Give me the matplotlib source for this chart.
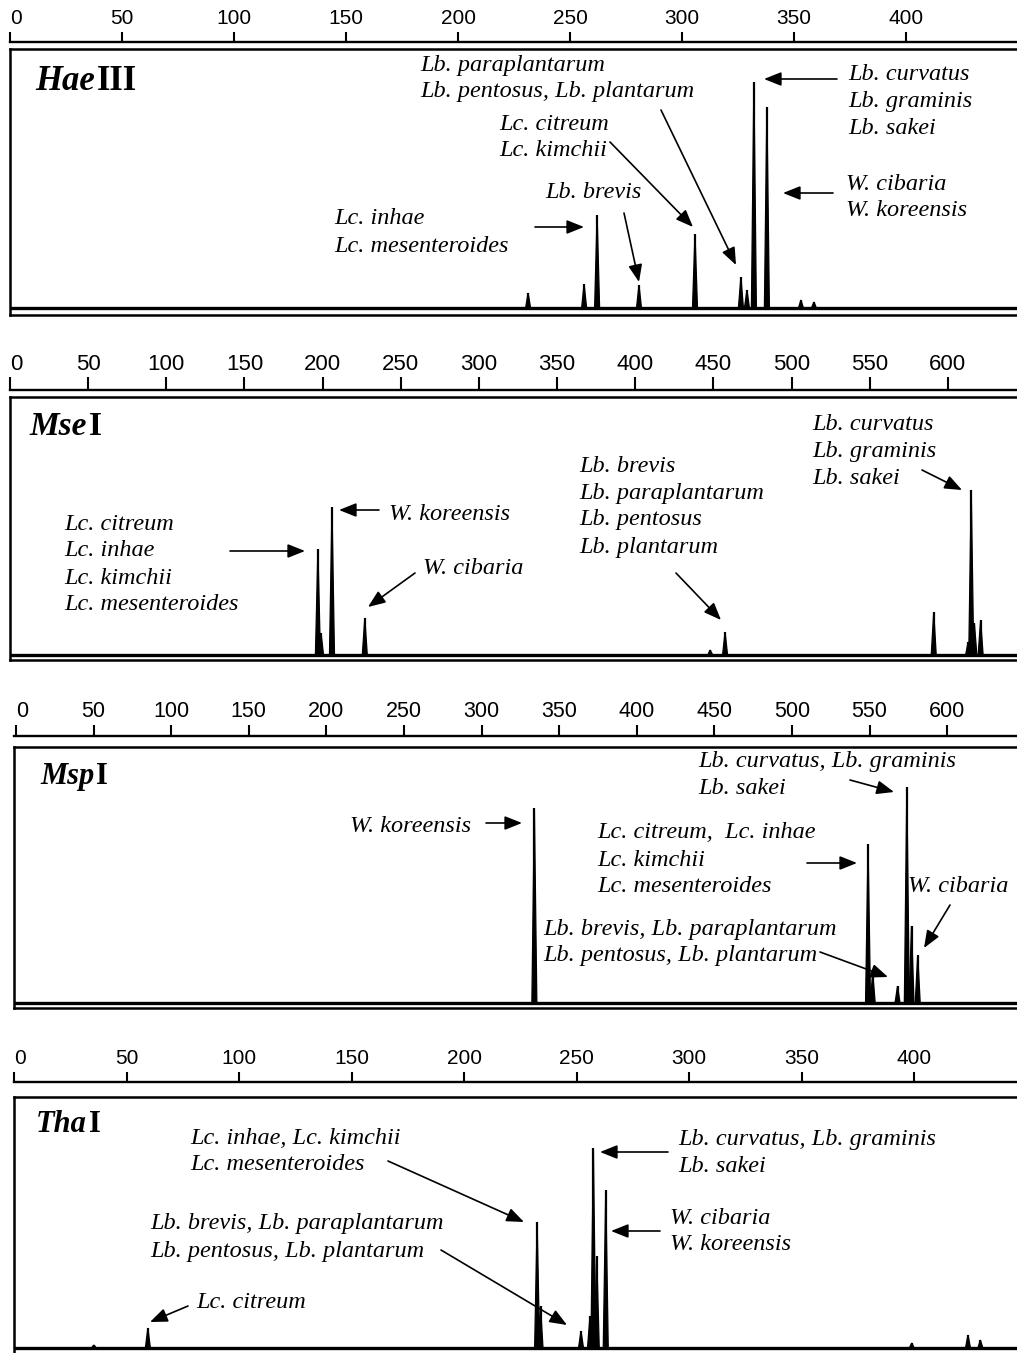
import matplotlib
matplotlib.use("Agg")
import matplotlib.pyplot as plt

# fragment size (bp scale) and peak height of each trace
hae_pos = [231.3, 256.3, 262.1, 280.8, 305.8, 326.3, 329.0, 332.1, 337.9, 353.1, 358.9]
hae_h = [15, 24, 93, 23, 74, 31, 18, 226, 201, 8, 6]

mse_pos = [197, 199, 206, 227, 448, 457.5, 591, 613, 615, 617, 621]
mse_h = [106, 22, 148, 37, 5, 23, 43, 13, 165, 32, 35]

msp_pos = [334, 549, 552, 568, 574, 577, 581]
msp_h = [195, 159, 30, 17, 216, 77, 48]

tha_pos = [35.5, 59.5, 232.5, 234, 252, 256, 257.5, 259, 263, 399, 424, 429.5]
tha_h = [3, 20, 126, 42, 17, 32, 200, 92, 158, 5, 13, 8]

ticks_short = list(range(0, 401, 50))
ticks_long = list(range(0, 601, 50))

W, H = 1017, 1353
SERIF = "Liberation Serif"
SANS = "Liberation Sans"
NAME_SIZE = 17.5
ARROW = dict(arrowstyle="-|>,head_length=0.75,head_width=0.3", color="black",
             lw=1.2, mutation_scale=14, shrinkA=0, shrinkB=0)

fig = plt.figure(figsize=(W / 100, H / 100), dpi=100)


def px(x, y):
    # picture coordinates (origin top-left) -> figure pixels
    return (x, H - y)


def panel(left, top, bottom, base, scale_y, x0, ppu, ticks, tick_size, tick_len, tick_pad, pos, hts):
    ax = fig.add_axes([left / W, 1 - bottom / H, (W - left) / W, (bottom - top) / H])
    ax.set_xlim((left - x0) / ppu, (W - x0) / ppu)
    ax.set_ylim(-(bottom - base), base - top)
    ax.set_xticks([])
    ax.set_yticks([])
    ax.spines["right"].set_visible(False)
    for s in ["left", "top", "bottom"]:
        ax.spines[s].set_linewidth(1.8)
    ax.axhline(0, color="black", lw=2.4)
    hw = 2.5 / ppu
    for p, h in zip(pos, hts):
        ax.fill([p - hw, p, p + hw], [0, h, 0], color="black", lw=0.9)
    ax.vlines(pos, 0, hts, color="black", lw=1.6)

    sax = fig.add_axes([left / W, 1 - (scale_y + 1) / H, (W - left) / W, 1 / H])
    sax.set_xlim(ax.get_xlim())
    sax.patch.set_visible(False)
    for s in ["left", "right", "bottom"]:
        sax.spines[s].set_visible(False)
    sax.spines["top"].set_linewidth(1.7)
    sax.set_yticks([])
    sax.xaxis.tick_top()
    sax.set_xticks(ticks)
    sax.set_xticklabels([str(t) for t in ticks], fontfamily=SANS)
    sax.tick_params(axis="x", direction="out", length=tick_len, width=1.5,
                    labelsize=tick_size, pad=tick_pad)
    sax.get_xticklabels()[0].set_ha("left")
    return ax


def title(ax, x, y, italic, roman, size):
    t = ax.annotate(italic, xy=px(x, y), xycoords="figure pixels", ha="left",
                    va="baseline", fontsize=size, fontfamily=SERIF,
                    fontweight="bold", fontstyle="italic")
    ax.annotate(roman, xy=(1.04, 0), xycoords=t, ha="left", va="bottom",
                fontsize=size, fontfamily=SERIF, fontweight="bold")


def names(ax, lines, x, y0, dy=27):
    for i, s in enumerate(lines):
        ax.annotate(s, xy=px(x, y0 + i * dy), xycoords="figure pixels",
                    ha="left", va="center", fontsize=NAME_SIZE, fontfamily=SERIF,
                    fontstyle="italic")


def arrow(ax, tail, head):
    ax.annotate("", xy=px(*head), xytext=px(*tail), xycoords="figure pixels",
                textcoords="figure pixels", arrowprops=ARROW)


# HaeIII
ax1 = panel(10, 49, 315, 308, 42, 10, 2.24, ticks_short, 15, 7, 3, hae_pos, hae_h)
title(ax1, 35, 90, "Hae", "III", 25)
names(ax1, ["Lb. paraplantarum", "Lb. pentosus, Lb. plantarum"], 420, 66, 26)
names(ax1, ["Lc. citreum", "Lc. kimchii"], 499, 124)
names(ax1, ["Lb. brevis"], 545, 193)
names(ax1, ["Lc. inhae", "Lc. mesenteroides"], 334, 219)
names(ax1, ["Lb. curvatus", "Lb. graminis", "Lb. sakei"], 848, 75)
names(ax1, ["W. cibaria", "W. koreensis"], 846, 184)
arrow(ax1, (535, 227), (584, 227))
arrow(ax1, (624, 213), (639, 282))
arrow(ax1, (610, 142), (693, 227))
arrow(ax1, (661, 110), (736, 265))
arrow(ax1, (837, 79), (764, 79))
arrow(ax1, (833, 193), (783, 193))

# MseI
ax2 = panel(10, 397, 660, 655, 390, 10, 1.563, ticks_long, 16, 9.4, 1.5, mse_pos, mse_h)
title(ax2, 29, 435, "Mse", "I", 24)
names(ax2, ["Lc. citreum", "Lc. inhae", "Lc. kimchii", "Lc. mesenteroides"], 64, 524)
names(ax2, ["W. koreensis"], 389, 514)
names(ax2, ["W. cibaria"], 423, 569)
names(ax2, ["Lb. brevis", "Lb. paraplantarum", "Lb. pentosus", "Lb. plantarum"], 579, 466)
names(ax2, ["Lb. curvatus", "Lb. graminis", "Lb. sakei"], 812, 424)
arrow(ax2, (230, 551), (305, 551))
arrow(ax2, (379, 510), (339, 510))
arrow(ax2, (415, 573), (368, 607))
arrow(ax2, (676, 573), (721, 620))
arrow(ax2, (922, 470), (962, 490))

# MspI
ax3 = panel(14, 747, 1008, 1003, 736, 16, 1.552, ticks_long, 15.5, 8, 2, msp_pos, msp_h)
title(ax3, 40, 784, "Msp", "I", 22)
names(ax3, ["W. koreensis"], 350, 826)
names(ax3, ["Lb. curvatus, Lb. graminis", "Lb. sakei"], 698, 762)
names(ax3, ["Lc. citreum,  Lc. inhae", "Lc. kimchii", "Lc. mesenteroides"], 597, 833)
names(ax3, ["W. cibaria"], 908, 886)
names(ax3, ["Lb. brevis, Lb. paraplantarum", "Lb. pentosus, Lb. plantarum"], 543, 929)
arrow(ax3, (486, 823), (522, 823))
arrow(ax3, (850, 780), (894, 792))
arrow(ax3, (807, 863), (857, 863))
arrow(ax3, (950, 905), (924, 948))
arrow(ax3, (820, 952), (888, 977))

# ThaI
ax4 = panel(14, 1097, 1360, 1348, 1082, 14, 2.25, ticks_short, 15, 7, 3, tha_pos, tha_h)
title(ax4, 36, 1132, "Tha", "I", 22)
names(ax4, ["Lc. inhae, Lc. kimchii", "Lc. mesenteroides"], 190, 1138)
names(ax4, ["Lb. brevis, Lb. paraplantarum", "Lb. pentosus, Lb. plantarum"], 150, 1224)
names(ax4, ["Lc. citreum"], 196, 1303)
names(ax4, ["Lb. curvatus, Lb. graminis", "Lb. sakei"], 678, 1139)
names(ax4, ["W. cibaria", "W. koreensis"], 670, 1219, 26)
arrow(ax4, (388, 1161), (524, 1222))
arrow(ax4, (441, 1250), (567, 1325))
arrow(ax4, (188, 1306), (150, 1322))
arrow(ax4, (668, 1152), (600, 1152))
arrow(ax4, (660, 1231), (611, 1231))

fig.savefig("out.png", dpi=100)
